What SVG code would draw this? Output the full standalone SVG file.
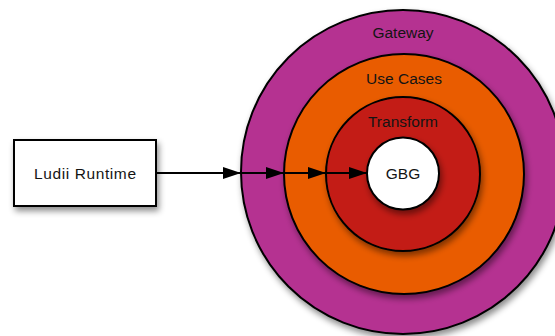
<svg xmlns="http://www.w3.org/2000/svg" width="555" height="336" viewBox="0 0 555 336">
<style>
.ring{stroke:#000;stroke-width:2;filter:url(#sh)}
.lbl{font-family:"Liberation Sans",Arial,sans-serif;font-size:15.5px;fill:#141414;text-anchor:middle}
.conn{stroke:#000;stroke-width:2;fill:none;marker-end:url(#ah)}
</style>
<defs>
<filter id="sh" x="-20%" y="-20%" width="140%" height="140%">
<feDropShadow dx="2" dy="4" stdDeviation="3" flood-color="#000" flood-opacity="0.45"/>
</filter>
<marker id="ah" viewBox="0 0 18 12" refX="18" refY="6" markerWidth="18" markerHeight="12" markerUnits="userSpaceOnUse" orient="auto">
<path d="M0,0 L18,6 L0,12 Z" fill="#000"/>
</marker>
</defs>
<rect width="555" height="336" fill="#fff"/>
<g id="gateway">
<circle class="ring" cx="403" cy="172" r="162" fill="#B53191"/>
<text class="lbl" x="403" y="37.5">Gateway</text>
</g>
<g id="use-cases">
<circle class="ring" cx="404" cy="174" r="120" fill="#E95C05"/>
<text class="lbl" x="404" y="84">Use Cases</text>
</g>
<g id="transform">
<circle class="ring" cx="403" cy="174" r="77" fill="#C31C12"/>
<text class="lbl" x="403" y="127">Transform</text>
</g>
<g id="gbg">
<circle class="ring" cx="403" cy="173.5" r="36" fill="#fff"/>
<text class="lbl" x="403" y="179">GBG</text>
</g>
<g id="ludii-runtime">
<rect x="14" y="140" width="142" height="66" fill="#fff" stroke="#000" stroke-width="2" filter="url(#sh)"/>
<text class="lbl" x="85" y="179" textLength="102">Ludii Runtime</text>
</g>
<g id="connectors">
<line class="conn" x1="157" y1="173" x2="241" y2="173"/>
<line class="conn" x1="241" y1="173" x2="284" y2="173"/>
<line class="conn" x1="284" y1="173" x2="326" y2="173"/>
<line class="conn" x1="326" y1="173" x2="367" y2="173"/>
</g>
</svg>
